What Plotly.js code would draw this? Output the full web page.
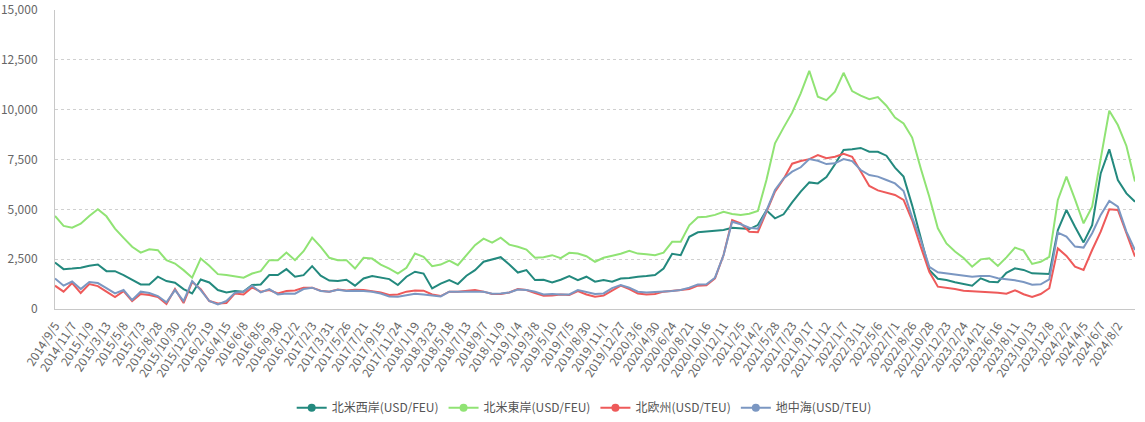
<!DOCTYPE html>
<html>
<head>
<meta charset="utf-8">
<script src="https://cdn.plot.ly/plotly-3.0.1.min.js"></script>
<style>html,body{margin:0;padding:0;background:#fff;}#chart{width:1145px;height:422px;}</style>
</head>
<body>
<div id="chart"></div>
<script>
// Dates (every ~4 weeks)
const dates = [
"2014/9/5","2014/10/3","2014/11/7","2014/12/5","2015/1/9","2015/2/6","2015/3/13","2015/4/10","2015/5/8","2015/6/5",
"2015/7/3","2015/7/31","2015/8/28","2015/9/25","2015/10/30","2015/11/27","2015/12/25","2016/1/22","2016/2/19","2016/3/18",
"2016/4/15","2016/5/13","2016/6/8","2016/7/6","2016/8/5","2016/9/2","2016/9/30","2016/10/28","2016/12/2","2016/12/30",
"2017/2/3","2017/3/3","2017/3/31","2017/4/28","2017/5/26","2017/6/23","2017/7/21","2017/8/18","2017/9/15","2017/10/13",
"2017/11/24","2017/12/22","2018/1/19","2018/2/16","2018/3/23","2018/4/20","2018/5/18","2018/6/15","2018/7/13","2018/8/10",
"2018/9/7","2018/10/5","2018/11/9","2018/12/7","2019/1/4","2019/2/1","2019/3/8","2019/4/5","2019/5/10","2019/6/7",
"2019/7/5","2019/8/2","2019/8/30","2019/9/27","2019/11/1","2019/11/29","2019/12/27","2020/1/24","2020/3/6","2020/4/3",
"2020/4/30","2020/5/28","2020/6/24","2020/7/22","2020/8/21","2020/9/18","2020/10/16","2020/11/13","2020/12/11","2021/1/8",
"2021/2/5","2021/3/5","2021/4/2","2021/4/30","2021/5/28","2021/6/25","2021/7/23","2021/8/20","2021/9/17","2021/10/15",
"2021/11/12","2021/12/10","2022/1/7","2022/2/4","2022/3/11","2022/4/8","2022/5/6","2022/6/3","2022/7/1","2022/7/29",
"2022/8/26","2022/9/23","2022/10/28","2022/11/25","2022/12/23","2023/1/20","2023/2/24","2023/3/24","2023/4/21","2023/5/19",
"2023/6/16","2023/7/14","2023/8/11","2023/9/8","2023/10/13","2023/11/10","2023/12/8","2024/1/5","2024/2/2","2024/3/1",
"2024/4/5","2024/5/3","2024/6/7","2024/7/5","2024/8/2","2024/8/30","2024/9/20"
];

const tickLabels = [
"2014/9/5","2014/11/7","2015/1/9","2015/3/13","2015/5/8","2015/7/3","2015/8/28","2015/10/30","2015/12/25","2016/2/19",
"2016/4/15","2016/6/8","2016/8/5","2016/9/30","2016/12/2","2017/2/3","2017/3/31","2017/5/26","2017/7/21","2017/9/15",
"2017/11/24","2018/1/19","2018/3/23","2018/5/18","2018/7/13","2018/9/7","2018/11/9","2019/1/4","2019/3/8","2019/5/10",
"2019/7/5","2019/8/30","2019/11/1","2019/12/27","2020/3/6","2020/4/30","2020/6/24","2020/8/21","2020/10/16","2020/12/11",
"2021/2/5","2021/4/2","2021/5/28","2021/7/23","2021/9/17","2021/11/12","2022/1/7","2022/3/11","2022/5/6","2022/7/1",
"2022/8/26","2022/10/28","2022/12/23","2023/2/24","2023/4/21","2023/6/16","2023/8/11","2023/10/13","2023/12/8","2024/2/2",
"2024/4/5","2024/6/7","2024/8/2"
];

// 北米西岸 (USD/FEU)
const naWest = [
2330,2000,2030,2070,2170,2230,1900,1900,1700,1450,1230,1230,1620,1400,1320,1000,780,1480,1330,950,
830,900,870,1200,1230,1700,1700,2000,1620,1700,2150,1670,1430,1400,1470,1170,1530,1650,1570,1500,
1200,1620,1870,1780,1030,1270,1450,1250,1670,1950,2370,2470,2600,2230,1830,1950,1450,1470,1330,1470,
1650,1450,1620,1370,1450,1370,1530,1550,1620,1650,1700,2030,2770,2700,3620,3850,3880,3910,3960,4080,
4060,4010,4210,4950,4550,4750,5350,5890,6350,6300,6620,7260,7980,8010,8080,7890,7890,7690,7090,6640,
5200,3630,1960,1520,1450,1340,1240,1170,1540,1370,1340,1810,2040,1960,1790,1790,1760,3960,4970,4130,
3340,4210,6800,8010,6470,5800,5380
];

// 北米東岸 (USD/FEU)
const naEast = [
4670,4170,4080,4280,4670,5000,4650,4030,3570,3120,2830,3000,2950,2450,2280,1950,1570,2530,2170,1750,
1700,1650,1570,1780,1900,2450,2450,2830,2450,2900,3580,3120,2570,2450,2450,2030,2570,2530,2230,2030,
1780,2070,2780,2620,2150,2230,2430,2200,2700,3200,3530,3330,3580,3230,3120,2980,2570,2600,2700,2550,
2820,2780,2650,2370,2570,2670,2770,2920,2780,2750,2700,2830,3370,3370,4200,4600,4630,4720,4880,4770,
4720,4780,4920,6470,8310,9100,9850,10820,11950,10650,10480,10900,11850,10930,10700,10530,10630,10200,9600,9310,
8600,7060,5630,4050,3290,2880,2560,2120,2490,2540,2160,2590,3080,2930,2260,2370,2620,5470,6640,5500,
4300,5130,7470,9950,9230,8180,6400
];

// 北欧州 (USD/TEU)
const nEurope = [
1170,870,1300,800,1250,1150,870,600,900,400,750,700,600,250,1000,300,1350,1000,400,280,
300,780,730,1080,870,950,780,900,930,1070,1070,920,870,980,930,970,950,900,830,700,
730,870,930,920,730,650,870,870,900,950,870,750,750,830,1000,950,800,670,680,730,
700,900,730,620,670,930,1170,1000,780,730,750,870,900,950,1000,1170,1190,1540,2710,4460,
4300,3880,3850,4920,5890,6520,7290,7420,7520,7720,7560,7640,7790,7640,6890,6170,5950,5850,5720,5470,
4450,3130,1870,1120,1070,1000,920,900,870,870,820,770,940,740,600,750,1040,3040,2660,2120,
1960,2960,3880,5000,4970,3800,2630
];

// 地中海 (USD/TEU)
const med = [
1530,1170,1380,1000,1350,1300,1050,780,950,450,870,800,650,330,950,400,1400,950,400,230,
400,820,870,1170,830,1000,730,780,770,1000,1070,900,870,970,900,920,900,870,780,630,
620,700,770,730,670,630,870,870,870,900,870,770,780,830,980,950,870,730,750,730,
730,950,850,750,780,1050,1200,1070,870,830,850,870,900,950,1070,1230,1240,1570,2710,4380,
4250,4080,4030,4930,5970,6550,6890,7110,7520,7440,7270,7310,7520,7420,6970,6720,6640,6470,6300,5920,
4600,3460,2120,1840,1790,1710,1660,1620,1660,1660,1540,1490,1440,1350,1220,1240,1490,3830,3630,3130,
3080,3800,4720,5420,5130,3880,2960
];

const seriesNames = ["北米西岸(USD/FEU)","北米東岸(USD/FEU)","北欧州(USD/TEU)","地中海(USD/TEU)"];
const seriesData = [naWest, naEast, nEurope, med];
const colors = ["#23897e","#90e374","#ee5a5a","#7b97c2"];

const traces = [];
seriesData.forEach((vals, i) => {
  traces.push({
    x: dates, y: vals, type: "scatter", mode: "lines",
    line: {color: colors[i], width: 2},
    name: seriesNames[i], showlegend: false, hoverinfo: "skip"
  });
});
seriesNames.forEach((nm, i) => {
  traces.push({
    x: [null], y: [null], type: "scatter", mode: "lines+markers",
    line: {color: colors[i], width: 2},
    marker: {color: colors[i], size: 8},
    name: nm, showlegend: true
  });
});

const layout = {
  width: 1145, height: 422,
  margin: {l: 55, r: 10, t: 10, b: 113, autoexpand: false},
  paper_bgcolor: "#fff", plot_bgcolor: "#fff",
  font: {family: "'Noto Sans CJK JP', 'Noto Sans', sans-serif", size: 12, color: "#666"},
  showlegend: true,
  legend: {
    orientation: "h", x: 0.49, xanchor: "center", y: -0.33, yanchor: "middle",
    font: {size: 12, color: "#555"}, itemwidth: 30, bgcolor: "rgba(0,0,0,0)"
  },
  xaxis: {
    type: "category", categoryorder: "array", categoryarray: dates,
    range: [0, dates.length - 1], autorange: false, automargin: false,
    tickmode: "array", tickvals: tickLabels, ticktext: tickLabels,
    tickangle: -57, tickfont: {size: 12, color: "#666"}, ticklabelstandoff: 4,
    showgrid: false, showline: true, linecolor: "#c8c8c8", linewidth: 1,
    ticks: "", zeroline: false, fixedrange: true
  },
  yaxis: {
    range: [0, 15000], autorange: false, dtick: 2500, tick0: 0, automargin: false,
    tickformat: ",d", tickfont: {size: 12, color: "#666"},
    showgrid: true, gridcolor: "#d0d0d0", griddash: "dot", gridwidth: 1,
    showline: true, linecolor: "#c8c8c8", linewidth: 1,
    zeroline: false, ticks: "", ticklabelstandoff: 14, fixedrange: true
  },
  hovermode: false
};

Plotly.newPlot("chart", traces, layout, {displayModeBar: false, staticPlot: true});
</script>
</body>
</html>
